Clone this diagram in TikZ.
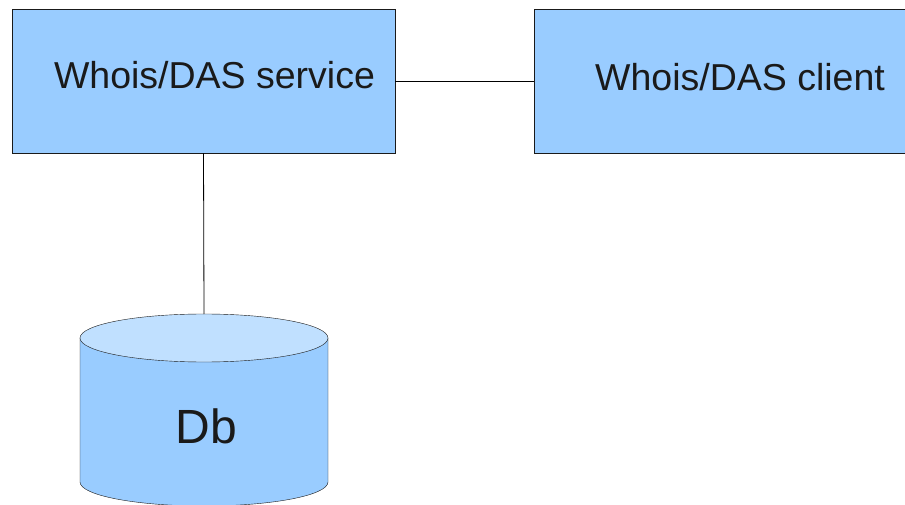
\documentclass[tikz,border=0pt]{standalone}
\usepackage{fontspec}
\setmainfont{Liberation Sans}
\usepackage{tikz}

\definecolor{boxblue}{HTML}{99CCFF}
\definecolor{topblue}{HTML}{C0E0FF}
\definecolor{ink}{HTML}{1A1A1A}

\begin{document}
\begin{tikzpicture}[x=1pt,y=1pt,
    box/.style={draw=ink,fill=boxblue,minimum width=383pt,minimum height=144pt,inner sep=0pt},
    boxtext/.style={text=ink,font=\fontsize{37.5}{42}\selectfont},
    wire/.style={draw=black,line width=0.8pt}]
      \path[use as bounding box,clip] (0,0) rectangle (905,504);
      \node[box,label={[name=svctext,boxtext,xshift=11pt,yshift=6pt]center:Whois/DAS service}] (svc) at (203.5,423) {};
      \node[box,label={[name=clitext,boxtext,xshift=14.5pt,yshift=4pt]center:Whois/DAS client}] (cli) at (725.5,423) {};
      % the Db cylinder
      \fill[boxblue] (80,166) -- (80,22) arc[start angle=180,end angle=360,x radius=124,y radius=24] -- (328,166) -- cycle;
      \draw[ink] (80,166) -- (80,22) arc[start angle=180,end angle=360,x radius=124,y radius=24] -- (328,166);
      \draw[ink,fill=topblue] (204,166) ellipse[x radius=124,y radius=24];
      \coordinate (dbtop) at (204,190);
      \node[text=ink,font=\fontsize{48}{54}\selectfont] (db) at (206.5,78) {Db};
      \draw[wire] (svc.east) -- (cli.west);
      \draw[wire] (svc.south) -- (dbtop);
    \end{tikzpicture}
\end{document}
